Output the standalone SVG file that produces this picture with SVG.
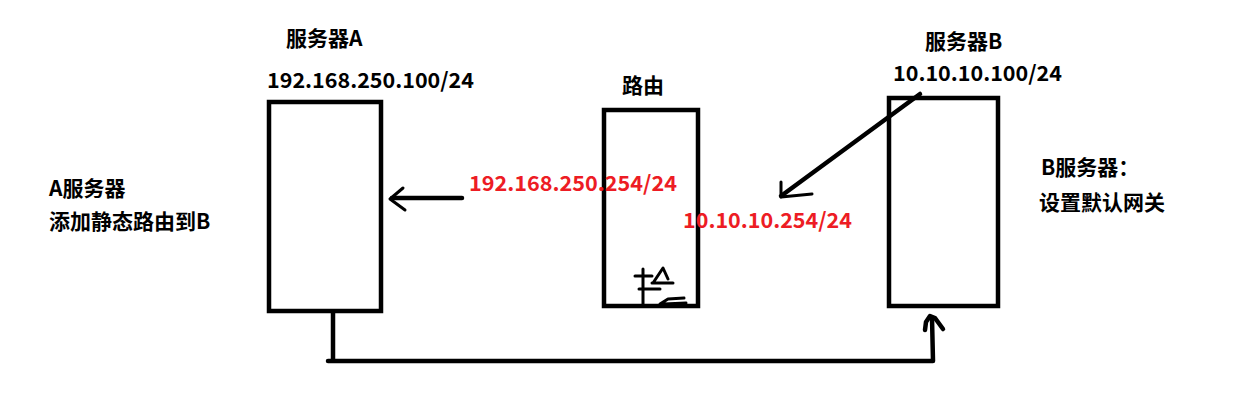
<svg xmlns="http://www.w3.org/2000/svg" width="1250" height="403" viewBox="0 0 1250 403">
<style>
.box{fill:none;stroke:#000;stroke-width:4.5}
.t{font-family:"Noto Sans CJK SC","Microsoft YaHei",sans-serif;font-weight:bold;font-size:21px;fill:#000}
.r{fill:#ed1c24}
.ln{fill:none;stroke:#000;stroke-width:4.5;stroke-linecap:round;stroke-linejoin:round}
.thin{fill:none;stroke:#000;stroke-width:3;stroke-linecap:round;stroke-linejoin:round}
</style>
<rect width="1250" height="403" fill="#fff"/>
<g id="serverA">
<rect class="box" x="269" y="102" width="112" height="209"/>
<text class="t" x="286" y="46">服务器A</text>
<text class="t" x="267" y="88" textLength="207" lengthAdjust="spacingAndGlyphs">192.168.250.100/24</text>
</g>
<g id="router">
<rect class="box" x="604" y="110" width="94" height="196"/>
<text class="t" x="622" y="93">路由</text>
<path class="thin" d="M643 269 L643 305 M635 276 L652 276 M639 289 L660 289 M653 283 L663 268 L668 279 M652 283 L673 283 M660 304 L668 299 L684 298 M664 304 L686 303"/>
</g>
<g id="serverB">
<rect class="box" x="889" y="98" width="109" height="208"/>
<text class="t" x="925" y="49">服务器B</text>
<text class="t" x="893" y="81" textLength="169" lengthAdjust="spacingAndGlyphs">10.10.10.100/24</text>
</g>
<g id="labels">
<text class="t r" x="469" y="191" textLength="208" lengthAdjust="spacingAndGlyphs">192.168.250.254/24</text>
<text class="t r" x="683" y="228" textLength="169" lengthAdjust="spacingAndGlyphs">10.10.10.254/24</text>
<text class="t" x="49" y="196">A服务器</text>
<text class="t" x="49" y="229">添加静态路由到B</text>
<text class="t" x="1041" y="175">B服务器：</text>
<text class="t" x="1039" y="210">设置默认网关</text>
</g>
<g id="connectors">
<path class="ln" d="M462 198 L392 198"/>
<path class="thin" d="M403 188 L390 199 L405 210"/>
<path class="ln" d="M920 94 L781 196"/>
<path class="thin" d="M781 182 L781 197 L812 194"/>
<path class="ln" d="M333 313 L333 361 M328 361 L933 361 L932 318"/>
<path class="ln" d="M925 330 L926 322 L930 316 L935 318 L943 329"/>
</g>
</svg>
